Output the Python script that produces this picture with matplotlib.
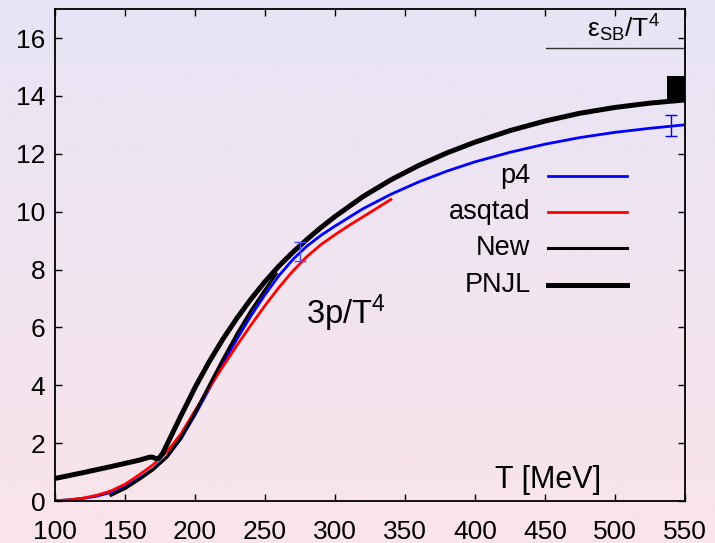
import numpy as np
import matplotlib
matplotlib.use("Agg")
import matplotlib.pyplot as plt
from matplotlib.colors import LinearSegmentedColormap

plt.rcParams['font.family'] = ['Liberation Sans', 'DejaVu Sans']

# p4 (blue)
T_p4 = [100, 110, 120, 130, 140, 150, 160, 170, 180, 190, 200, 210, 220, 230, 240, 250, 260,
        270, 280, 290, 300, 320, 340, 360, 380, 400, 425, 450, 475, 500, 525, 550]
p4 = [0.01, 0.04, 0.09, 0.17, 0.3, 0.5, 0.78, 1.1, 1.52, 2.15, 2.97, 3.86, 4.75, 5.6, 6.4, 7.13, 7.79,
      8.35, 8.81, 9.18, 9.5, 10.1, 10.6, 11.03, 11.4, 11.72, 12.05, 12.33, 12.56, 12.74, 12.88, 13.0]

# asqtad (red)
T_asq = [100, 110, 120, 130, 140, 150, 160, 170, 180, 190, 200, 210, 220, 230, 240,
         250, 260, 270, 280, 290, 300, 310, 320, 330, 340]
asq = [0.01, 0.04, 0.1, 0.2, 0.35, 0.58, 0.9, 1.25, 1.7, 2.32, 3.12, 3.9, 4.65, 5.38, 6.08,
       6.75, 7.38, 7.95, 8.45, 8.86, 9.2, 9.52, 9.82, 10.12, 10.42]

# New (thin black)
T_new = [140, 150, 160, 170, 180, 190, 200, 210, 220, 230, 240, 250, 258]
new = [0.2, 0.43, 0.74, 1.08, 1.52, 2.18, 3.04, 3.98, 4.9, 5.78, 6.58, 7.3, 7.85]

# PNJL (thick black)
T_pnjl = [100, 120, 140, 160, 168, 170, 172, 174, 177, 180, 185, 190, 195, 200, 210, 220, 230, 240,
          250, 260, 270, 280, 290, 300, 320, 340, 360, 380, 400, 425, 450, 475, 500, 525, 550]
pnjl = [0.78, 0.98, 1.19, 1.41, 1.52, 1.51, 1.47, 1.47, 1.65, 1.95, 2.45, 2.95, 3.43, 3.92, 4.8, 5.6, 6.32, 6.98,
        7.58, 8.12, 8.6, 9.04, 9.45, 9.83, 10.52, 11.1, 11.6, 12.03, 12.4, 12.8, 13.13, 13.4, 13.6, 13.75, 13.86]

# lattice error bars (p4)
T_err = [275, 540]
v_err = [8.63, 12.98]
e_err = [0.33, 0.36]

# Stefan-Boltzmann limit and box
sb_T = [450.5, 550]
sb_val = 15.64
box_T = [537, 550]
box_v = [13.86, 14.7]

fig = plt.figure(figsize=(7.15, 5.43), dpi=100)

# gradient background
bg = fig.add_axes([0, 0, 1, 1], zorder=-10)
cmap = LinearSegmentedColormap.from_list('bg', ['#fae4ea', '#e8e4f6'])
bg.imshow(np.linspace(0, 1, 256).reshape(-1, 1), aspect='auto', cmap=cmap,
          origin='lower', extent=[0, 1, 0, 1])
bg.axis('off')

ax = fig.add_axes([0.0769, 0.0773, 0.881, 0.906])
ax.patch.set_alpha(0)

ax.plot(T_p4, p4, color='#0000ff', lw=2)
ax.plot(T_asq, asq, color='#ff0000', lw=2)
ax.plot(T_new, new, color='black', lw=2.2)
ax.plot(T_pnjl, pnjl, color='black', lw=3.6)

ax.errorbar(T_err[:1], v_err[:1], yerr=e_err[:1], fmt='none', ecolor='#4d4dff', elinewidth=1, capsize=4, capthick=1)
ax.errorbar(T_err[1:], v_err[1:], yerr=e_err[1:], fmt='none', ecolor='#0000ff', elinewidth=1, capsize=4, capthick=1)

ax.plot(sb_T, [sb_val, sb_val], color='#333333', lw=1)
ax.fill_between(box_T, box_v[0], box_v[1], color='black', lw=0)

ax.text(532, 16.35, r'$\mathregular{\varepsilon_{SB}/T^4}$', fontsize=19, ha='right', va='center')
ax.text(279, 6.5, r'3p/T$\mathregular{^4}$', fontsize=23.5, ha='left', va='center')
ax.text(490, 0.73, 'T [MeV]', fontsize=22, ha='right', va='center')

# legend (manual, text right aligned)
leg = [('p4', '#0000ff', 2), ('asqtad', '#ff0000', 2), ('New', 'black', 2.2), ('PNJL', 'black', 3.6)]
ys = [0.660, 0.587, 0.514, 0.439]
for (lab, c, w), y in zip(leg, ys):
    ax.plot([0.783, 0.908], [y, y], color=c, lw=w, transform=ax.transAxes)
    ax.text(0.755, y, lab, fontsize=19.5, ha='right', va='center', transform=ax.transAxes)

ax.set_xlim(100, 550)
ax.set_ylim(0, 17)
ax.set_xticks(np.arange(100, 551, 50))
ax.set_yticks(np.arange(0, 17, 2))
ax.tick_params(direction='in', length=5, width=1, labelsize=19, top=True, right=True)
ax.tick_params(axis='x', pad=14)
ax.tick_params(axis='y', pad=7)
for s in ax.spines.values():
    s.set_linewidth(1.3)

fig.savefig('out.png', dpi=100)
